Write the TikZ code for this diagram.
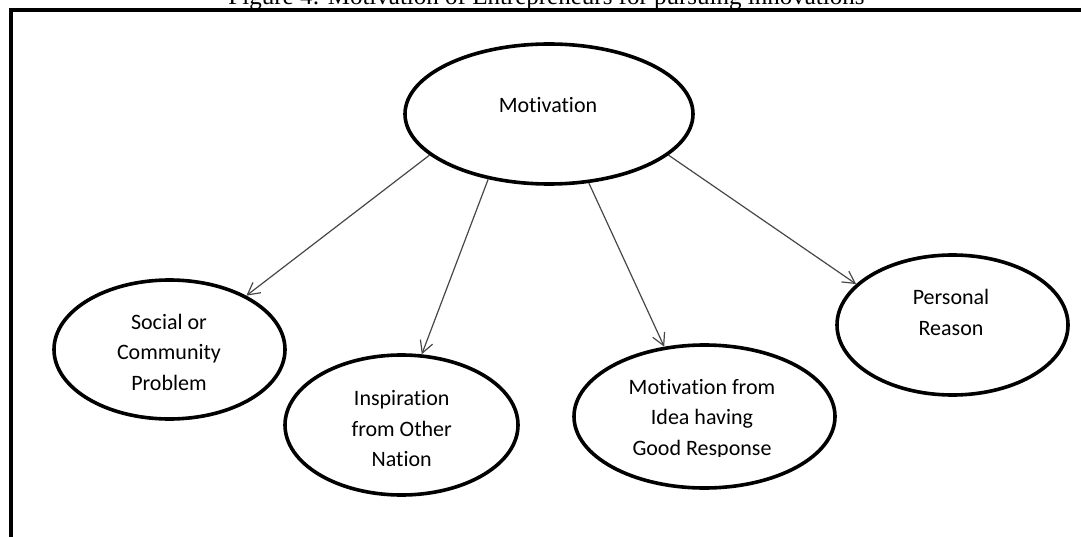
\documentclass[tikz,border=0pt]{standalone}
\usepackage{fontspec}
\setmainfont{Carlito}[Ligatures=NoCommon]
\newfontfamily\captionserif{Liberation Serif}
\usetikzlibrary{arrows.meta,shapes.geometric}
% centred lines whose baseline is that of the first line
\newcommand\labellines[1]{\begin{tabular}[t]{@{}c@{}}#1\end{tabular}}
\begin{document}
\begin{tikzpicture}[x=1pt,y=-1pt,
  bubble/.style={draw=black, line width=3.6pt, ellipse, inner sep=0pt},
  txt/.style={font=\fontsize{22}{30.5}\selectfont, text=black, inner sep=0pt, anchor=base},
  link/.style={draw=black!72, line width=1.2pt,
    -{Straight Barb[length=12pt,width=13pt,line width=1.2pt]}}
]
\useasboundingbox (0,0) rectangle (1081,537);

% caption (its upper part lies above the page)
\node[font=\captionserif\fontsize{25}{25}\selectfont, anchor=base, inner sep=0pt]
  (caption) at (546.5,4.5) {Figure 4: Motivation of Entrepreneurs for pursuing innovations};

% frame
\draw[line width=4pt] (10.5,560) |- (1100,10.5);

% ellipses
\node[bubble, minimum width=288pt, minimum height=140pt] (mot)  at (549,114) {};
\node[bubble, minimum width=231pt, minimum height=139pt] (soc)  at (169.5,349.5) {};
\node[bubble, minimum width=233pt, minimum height=140pt] (insp) at (401.5,425) {};
\node[bubble, minimum width=261pt, minimum height=143pt] (idea) at (704.5,416.5) {};
\node[bubble, minimum width=231pt, minimum height=140pt] (pers) at (952.5,325) {};

% labels
\node[txt] (motT)  at (548,113)   {Motivation};
\node[txt] (socT)  at (169,329.3) {\labellines{Social or\\Community\\Problem}};
\node[txt] (inspT) at (401.7,405.7) {\labellines{Inspiration\\from Other\\Nation}};
\begin{scope}
  \clip (560,340) rectangle (850,456);
  \node[txt] (ideaT) at (702,394.3) {\labellines{Motivation from\\Idea having\\Good Response}};
\end{scope}
\node[txt] (persT) at (951,305) {\labellines{Personal\\Reason}};

% connectors
\draw[link] (mot.199) -- (soc.35);
\draw[link] (mot.227) -- (insp.74);
\draw[link] (mot.300) -- (idea.120);
\draw[link] (mot.341) -- (pers.157);
\end{tikzpicture}
\end{document}
